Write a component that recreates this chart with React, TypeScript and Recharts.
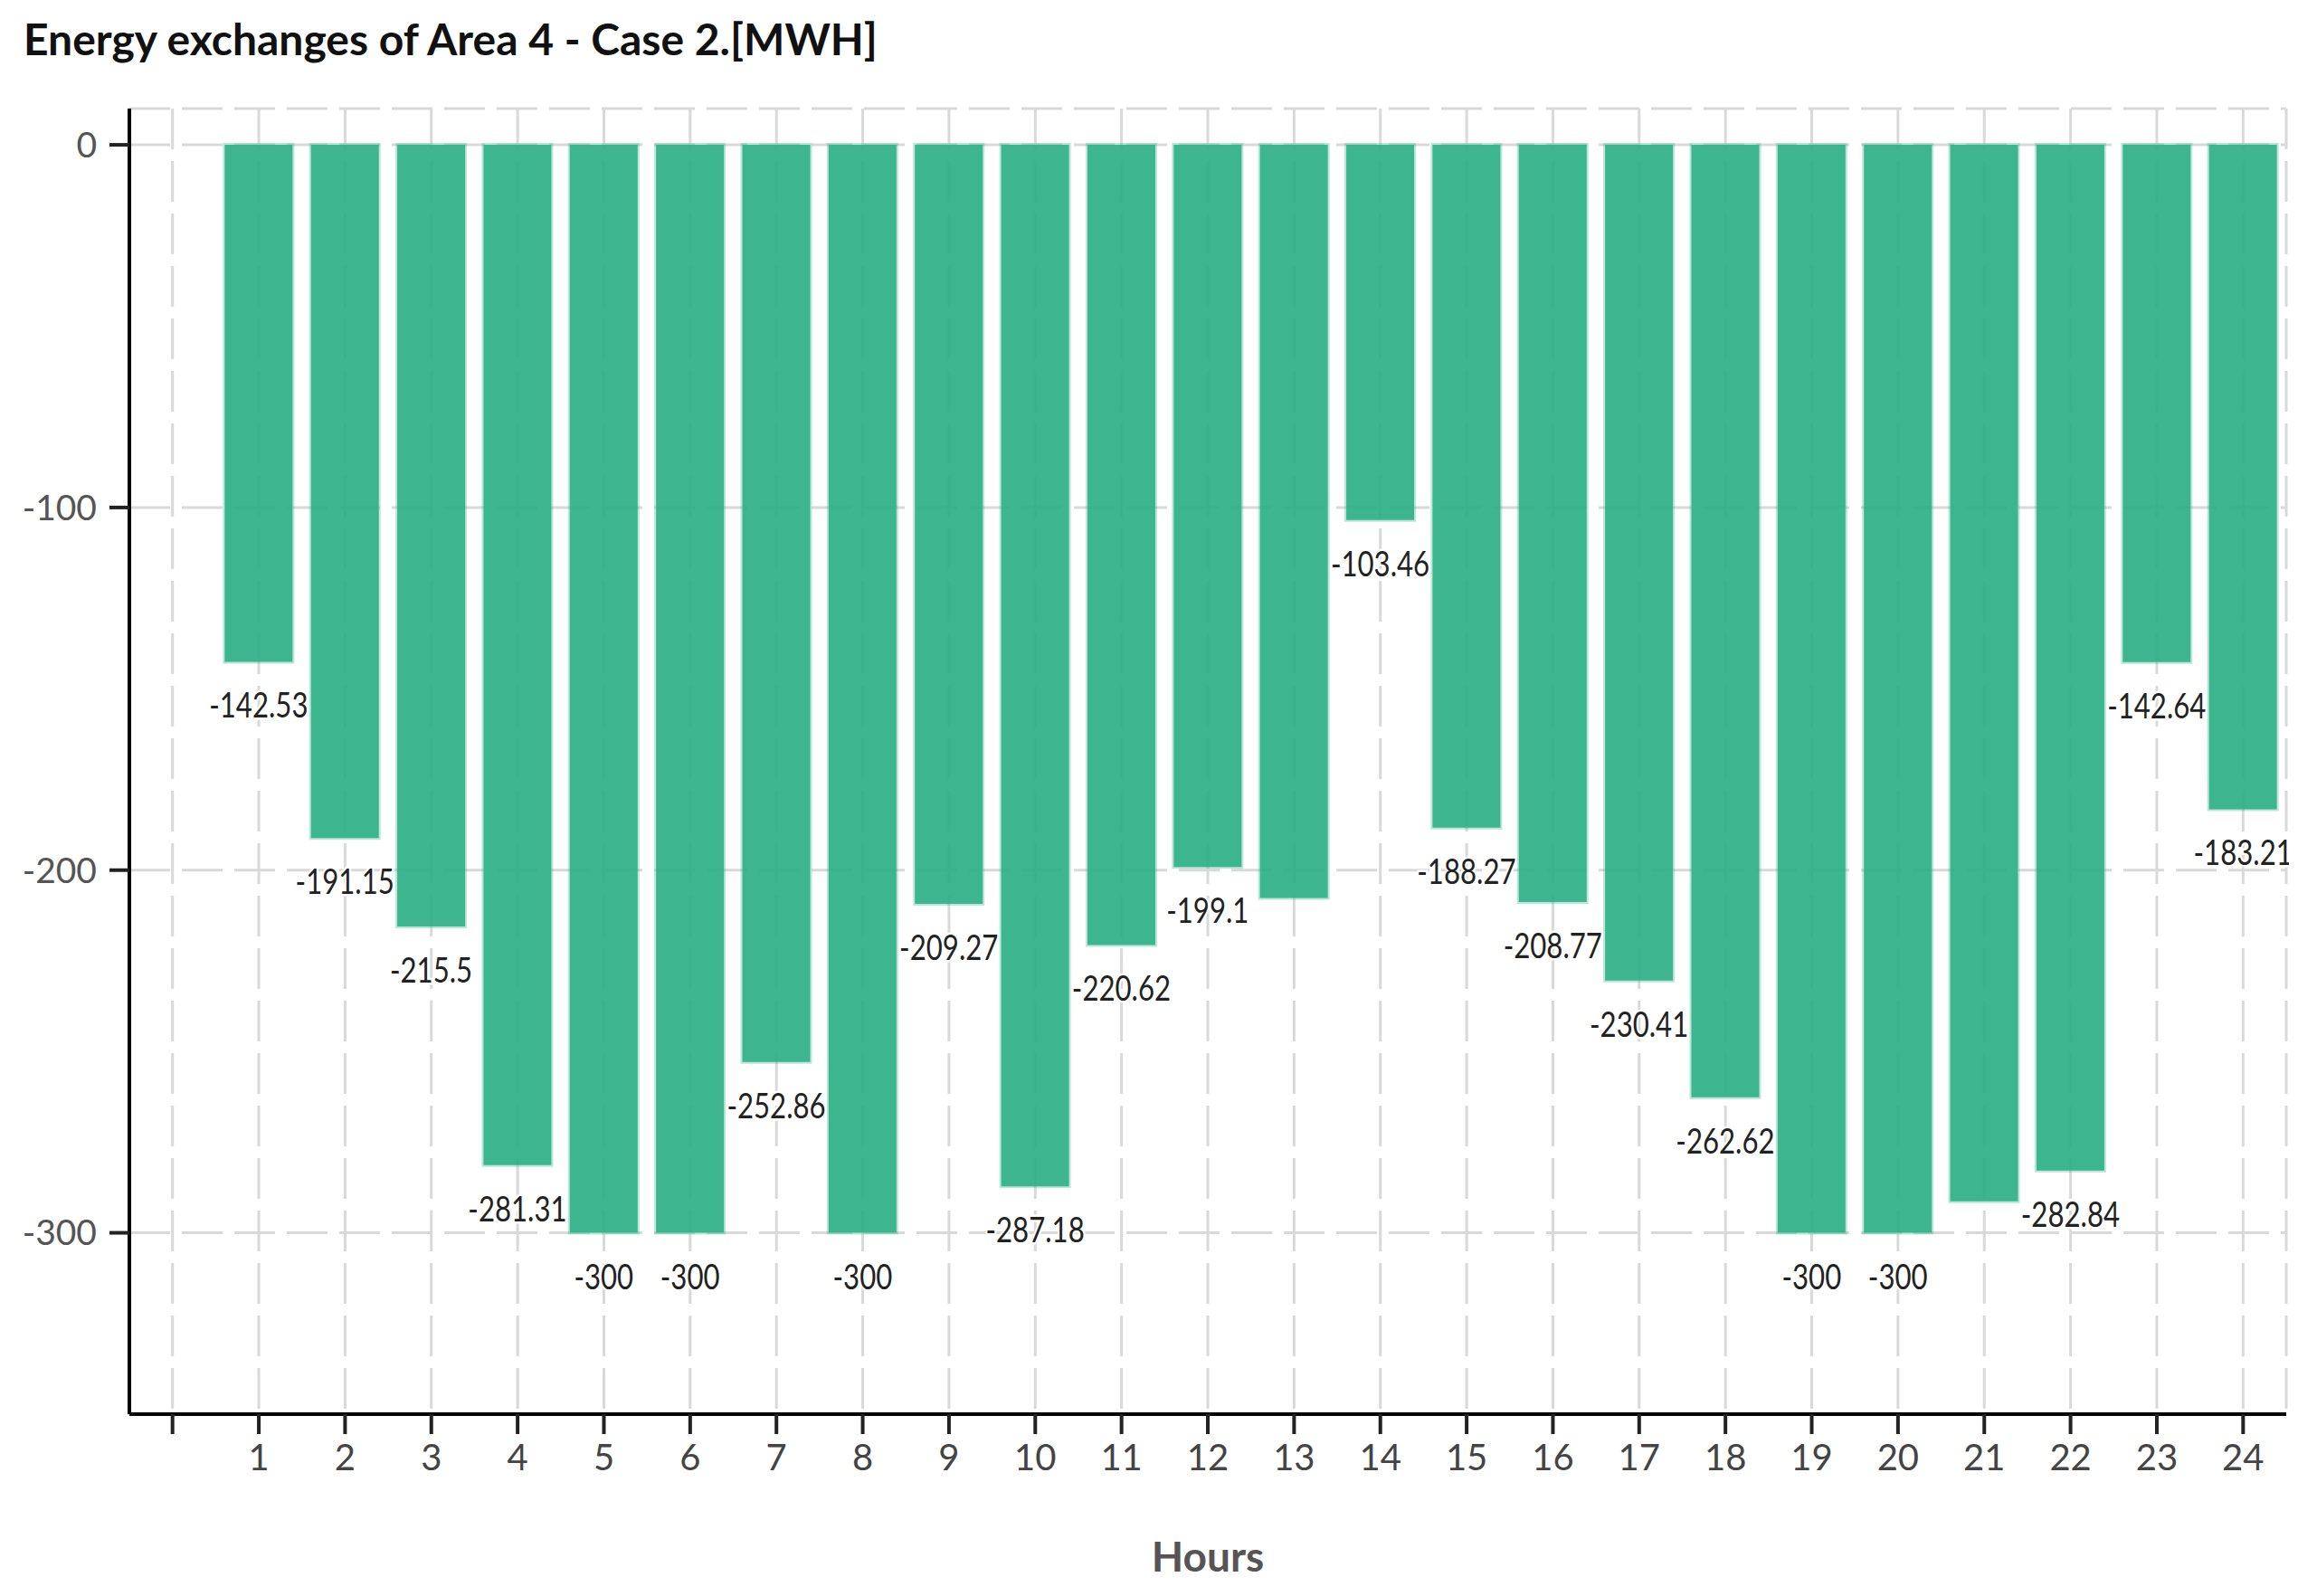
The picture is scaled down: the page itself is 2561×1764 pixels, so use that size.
import React from 'react';
import { BarChart, Bar, XAxis, YAxis, CartesianGrid, LabelList } from 'recharts';

const title = 'Energy exchanges of Area 4 - Case 2.[MWH]';
const xLabel = 'Hours';

// first category is an empty slot before hour 1
const hours: string[] = ['', '1', '2', '3', '4', '5', '6', '7', '8', '9', '10', '11', '12', '13', '14', '15', '16', '17', '18', '19', '20', '21', '22', '23', '24'];
const exchange: (number | null)[] = [null, -142.53, -191.15, -215.5, -281.31, -300, -300, -252.86, -300, -209.27, -287.18, -220.62, -199.1, -207.7, -103.46, -188.27, -208.77, -230.41, -262.62, -300, -300, -291.3, -282.84, -142.64, -183.21];
const hiddenLabels: string[] = ['13', '21'];
const yTicks: number[] = [0, -100, -200, -300];
const yDomain: number[] = [-350, 10];

const data = hours.map((h, i) => ({
  hour: h,
  value: exchange[i],
  label: exchange[i] === null || hiddenLabels.includes(h) ? '' : String(exchange[i]),
}));

const renderLabel = (props: any) => {
  const { x, y, width, height, value } = props;
  if (value === null || value === undefined || value === '') return null;
  const bottom = Math.max(Number(y), Number(y) + Number(height));
  const cx = Number(x) + Number(width) / 2;
  return (
    <text
      transform={`translate(${cx},${bottom + 62}) scale(0.82,1)`}
      x={0}
      y={0}
      textAnchor="middle"
      fontFamily="Lato, sans-serif"
      fontSize={38}
      fill="#222"
      stroke="#fff"
      strokeWidth={5}
      paintOrder="stroke"
    >
      {String(value)}
    </text>
  );
};

export default function App() {
  return (
    <div style={{ position: 'relative', width: 2545, height: 1750, background: '#fff' }}>
      <div
        style={{
          position: 'absolute',
          left: 18,
          top: 11,
          fontFamily: 'Lato, sans-serif',
          fontWeight: 700,
          fontSize: 48,
          lineHeight: '48px',
          color: '#111',
          whiteSpace: 'nowrap',
        }}
      >
        {title}
      </div>
      <BarChart
        width={2522}
        height={1745}
        data={data}
        margin={{ top: 112, right: 3, bottom: 0, left: 0 }}
        barSize={75}
      >
        <CartesianGrid stroke="#d9d9d9" strokeWidth={3} strokeDasharray="45 13" />
        <XAxis
          dataKey="hour"
          type="category"
          height={190}
          interval={0}
          axisLine={{ stroke: '#000', strokeWidth: 4 }}
          tickLine={{ stroke: '#222', strokeWidth: 4 }}
          tickSize={22}
          tickMargin={12}
          tick={{ fontFamily: 'Lato, sans-serif', fontSize: 40, fill: '#444' }}
          label={{
            value: xLabel,
            position: 'insideBottom',
            offset: 16,
            style: { fontFamily: 'Lato, sans-serif', fontWeight: 700, fontSize: 46, fill: '#555' },
          }}
        />
        <YAxis
          type="number"
          domain={yDomain}
          ticks={yTicks}
          width={135}
          axisLine={{ stroke: '#000', strokeWidth: 4 }}
          tickLine={{ stroke: '#222', strokeWidth: 4 }}
          tickSize={22}
          tickMargin={14}
          tick={{ fontFamily: 'Lato, sans-serif', fontSize: 39, fill: '#555' }}
          allowDataOverflow
        />
        <Bar
          dataKey="value"
          fill="#28ae84"
          fillOpacity={0.9}
          stroke="#3db690"
          strokeOpacity={0.35}
          strokeWidth={4}
          isAnimationActive={false}
        >
          <LabelList dataKey="label" content={renderLabel} />
        </Bar>
      </BarChart>
    </div>
  );
}
